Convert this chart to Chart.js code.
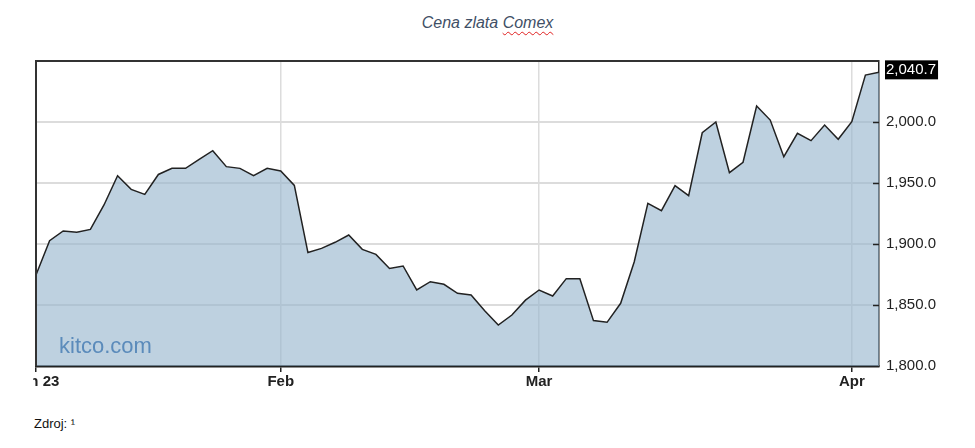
<!DOCTYPE html>
<html><head><meta charset="utf-8">
<script src="https://cdn.jsdelivr.net/npm/chart.js@4"></script>
<style>
html,body{margin:0;padding:0;background:#fff;width:975px;height:448px;overflow:hidden;position:relative;font-family:"Liberation Sans",Arial,sans-serif;}
#title{position:absolute;left:0;top:14px;width:975px;text-align:center;font-size:16px;line-height:18px;font-style:italic;color:#3f4f66;}
#title .sp{text-decoration:underline wavy #e02020;text-decoration-thickness:1px;text-underline-offset:3px;}
#wrap{position:absolute;left:33px;top:0;width:942px;height:400px;overflow:hidden;}
#c{position:absolute;left:-57px;top:0;}
#src{position:absolute;left:34px;top:416px;font-size:13px;line-height:15px;color:#111;}
</style></head>
<body>
<div id="title">Cena zlata <span class="sp">Comex</span></div>
<div id="wrap"><canvas id="c" width="973" height="396" style="width:973px;height:396px"></canvas></div>
<div id="src">Zdroj: ¹</div>
<script>
const dates = ["Jan 5","Jan 6","Jan 9","Jan 10","Jan 11","Jan 12","Jan 13","Jan 17","Jan 18","Jan 19","Jan 20","Jan 23","Jan 24","Jan 25","Jan 26","Jan 27","Jan 30","Jan 31",
"Feb 1","Feb 2","Feb 3","Feb 6","Feb 7","Feb 8","Feb 9","Feb 10","Feb 13","Feb 14","Feb 15","Feb 16","Feb 17","Feb 21","Feb 22","Feb 23","Feb 24","Feb 27","Feb 28",
"Mar 1","Mar 2","Mar 3","Mar 6","Mar 7","Mar 8","Mar 9","Mar 10","Mar 13","Mar 14","Mar 15","Mar 16","Mar 17","Mar 20","Mar 21","Mar 22","Mar 23","Mar 24","Mar 27","Mar 28","Mar 29","Mar 30","Mar 31",
"Apr 3","Apr 4","Apr 5"];
const prices = [1874.6,1902.7,1910.7,1909.6,1912.0,1932.0,1956.0,1944.8,1940.7,1957.0,1962.0,1962.0,1969.4,1976.5,1963.4,1962.0,1956.0,1962.0,
1959.8,1948.0,1893.0,1896.4,1901.4,1907.4,1895.6,1891.5,1880.0,1882.0,1862.3,1869.1,1867.0,1859.6,1858.2,1845.3,1833.6,1841.8,1854.0,
1862.3,1857.4,1871.6,1871.6,1837.2,1835.8,1851.4,1885.5,1933.3,1927.3,1947.8,1939.6,1991.2,2000.0,1958.5,1967.0,2013.1,2001.6,1971.6,1990.7,1984.7,1997.5,1985.8,
2000.3,2038.5,2040.7];
const xTickLabels = {0:"Jan 23",18:"Feb",37:"Mar",60:"Apr"};
const yTicks = [1800,1850,1900,1950,2000,2050];
const lastLabel = "2,040.7";

const overlay = {
  id:'overlay',
  afterDatasetsDraw(chart){
    const {ctx, chartArea:a, scales:{y}} = chart;
    ctx.save();
    ctx.fillStyle = '#5b8bbb';
    ctx.font = '22px "Liberation Sans", Arial, sans-serif';
    ctx.textBaseline = 'alphabetic';
    ctx.textAlign = 'left';
    ctx.fillText('kitco.com', a.left + 23, 353);
    ctx.strokeStyle = '#222';
    ctx.lineWidth = 1.5;
    for (const v of yTicks.slice(1, -1)) {
      const py = Math.round(y.getPixelForValue(v)) + 0.5;
      ctx.beginPath(); ctx.moveTo(a.right - 6, py); ctx.lineTo(a.right, py); ctx.stroke();
    }
    ctx.strokeStyle = '#333';
    ctx.lineWidth = 2;
    ctx.beginPath();
    ctx.moveTo(a.left, a.bottom); ctx.lineTo(a.left, a.top); ctx.lineTo(a.right, a.top);
    ctx.stroke();
    ctx.restore();
  },
  afterDraw(chart){
    const {ctx, chartArea:a, scales:{y}} = chart;
    ctx.save();
    const py = y.getPixelForValue(prices[prices.length-1]) - 2;
    ctx.font = '15px "Liberation Sans", Arial, sans-serif';
    const w = ctx.measureText(lastLabel).width;
    ctx.fillStyle = '#000';
    ctx.fillRect(a.right + 6, py - 10, w + 3, 19);
    ctx.fillStyle = '#fff';
    ctx.textBaseline = 'middle';
    ctx.textAlign = 'left';
    ctx.fillText(lastLabel, a.right + 7, py);
    ctx.restore();
  }
};

new Chart(document.getElementById('c'), {
  type:'line',
  data:{labels:dates, datasets:[{
    data:prices,
    borderColor:'#222',
    borderWidth:1.5,
    backgroundColor:'rgba(150,180,205,0.62)',
    fill:'start',
    pointRadius:0,
    tension:0
  }]},
  options:{
    responsive:false,
    animation:false,
    devicePixelRatio:1,
    layout:{padding:{left:60,top:61,right:0,bottom:0}},
    plugins:{legend:{display:false},tooltip:{enabled:false},title:{display:false}},
    scales:{
      x:{
        type:'category',
        offset:false,
        afterFit(s){ s.height = 30; },
        grid:{
          color:(c)=> (c.index in xTickLabels && c.index !== 0) ? '#dcdcdc' : 'rgba(0,0,0,0)',
          lineWidth:1.5,
          tickColor:(c)=> (c.index in xTickLabels) ? '#222' : 'rgba(0,0,0,0)',
          tickLength:6,
          drawTicks:true
        },
        border:{display:true,color:'#222',width:2.5},
        ticks:{
          autoSkip:false,
          maxRotation:0,
          minRotation:0,
          padding:1,
          color:'#222',
          font:{family:'"Liberation Sans", Arial, sans-serif',size:15,weight:'bold'},
          callback:(v,i)=> xTickLabels[i] || ''
        }
      },
      y:{
        position:'right',
        min:1800,max:2050,
        afterFit(s){ s.width = 70; },
        afterBuildTicks(s){ s.ticks = yTicks.map(v=>({value:v})); },
        grid:{color:'#dcdcdc',lineWidth:2,drawTicks:false},
        border:{display:true,color:'#222',width:1.5},
        ticks:{
          padding:7,
          color:'#222',
          font:{family:'"Liberation Sans", Arial, sans-serif',size:15},
          callback:(v)=> v===2050 ? '' : v.toLocaleString('en-US',{minimumFractionDigits:1,maximumFractionDigits:1})
        }
      }
    }
  },
  plugins:[overlay]
});
</script>
</body></html>
